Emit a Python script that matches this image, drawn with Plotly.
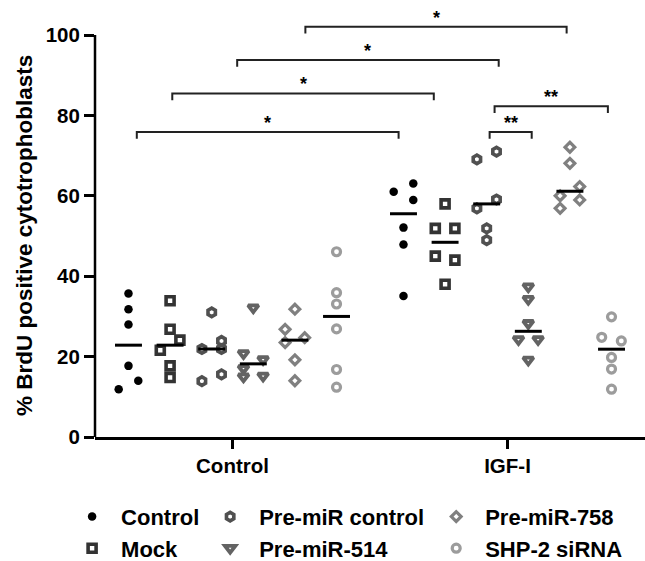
import numpy as np
import plotly.graph_objects as go

# ---------------- data ----------------
CATEGORIES = ["Control", "IGF-I"]
SERIES = ["Control", "Mock", "Pre-miR control", "Pre-miR-514", "Pre-miR-758", "SHP-2 siRNA"]

# each list: [values under "Control" condition, values under "IGF-I" condition]
control_values = [[35.7, 31.8, 28.0, 17.7, 14.0, 11.9], [63.1, 61.0, 59.0, 52.1, 47.9, 35.1]]
mock_values = [[33.9, 26.8, 24.1, 21.6, 17.7, 14.8], [58.0, 51.9, 51.9, 44.0, 45.0, 38.0]]
premir_control_values = [[31.0, 23.9, 21.9, 21.9, 15.6, 13.9], [71.0, 69.1, 59.1, 56.9, 51.9, 49.0]]
premir_514_values = [[32.2, 19.3, 20.8, 17.1, 15.2, 15.0], [37.4, 34.3, 28.3, 24.3, 24.3, 19.2]]
premir_758_values = [[31.8, 24.7, 26.8, 23.5, 19.2, 14.0], [72.1, 68.1, 62.3, 60.0, 59.0, 56.9]]
shp2_values = [[46.1, 35.9, 33.1, 26.9, 16.8, 12.4], [29.9, 23.9, 24.8, 19.8, 16.9, 11.9]]

Y_TICKS = [0, 20, 40, 60, 80, 100]
Y_TITLE = "% BrdU positive cytotrophoblasts"

# significance comparisons: (x start, x end, height, label)
comparison_x0 = [-0.348, -0.219, 0.017, 0.265, 0.935, 0.953]
comparison_x1 = [0.604, 0.732, 0.968, 1.215, 1.088, 1.365]
comparison_y = [75.9, 85.5, 93.8, 102.1, 75.9, 82.3]
comparison_label = ["*", "*", "*", "*", "**", "**"]

ALL_VALUES = [control_values, mock_values, premir_control_values,
              premir_514_values, premir_758_values, shp2_values]

# ---------------- style ----------------
FONT = "Liberation Sans"
W, H = 645, 561
M_L, M_R, M_T, M_B = 95, 0, 11, 124
X_RANGE = [-0.5, 1.5]
Y_RANGE = [0, 106]
PX_PER_Y = (H - M_T - M_B) / (Y_RANGE[1] - Y_RANGE[0])
PX_PER_X = (W - M_L - M_R) / (X_RANGE[1] - X_RANGE[0])

GROUP_STEP = 0.1513
SPREAD = 9.8 / PX_PER_X          # horizontal offset of overlapping points
OVERLAP_PX = 10.5                # vertical distance under which points overlap
MEDIAN_HALF = 0.049

styles = [
    dict(symbol="circle", color="#000000", size=8.5, lw=0),
    dict(symbol="square-open", color="#333333", size=8, lw=3.6),
    dict(symbol="hexagon-open", color="#505050", size=8.5, lw=3.6),
    dict(symbol="triangle-down-open", color="#636363", size=9, lw=3.8),
    dict(symbol="diamond-open", color="#808080", size=7.5, lw=3.2),
    dict(symbol="circle-open", color="#9c9c9c", size=8, lw=3.2),
]
legend_ids = ["legend", "legend", "legend2", "legend2", "legend3", "legend3"]


def swarm_offsets(vals):
    """Spread points that would overlap vertically, alternating right/left."""
    n = len(vals)
    order = sorted(range(n), key=lambda i: -vals[i])
    chains, cur = [], [order[0]]
    for a, b in zip(order, order[1:]):
        if (vals[a] - vals[b]) * PX_PER_Y < OVERLAP_PX:
            cur.append(b)
        else:
            chains.append(cur)
            cur = [b]
    chains.append(cur)
    off = [0.0] * n
    for ch in chains:
        if len(ch) < 2:
            continue
        k = ch.index(min(ch))
        for j, idx in enumerate(ch):
            off[idx] = SPREAD if (j - k) % 2 == 0 else -SPREAD
    return off


fig = go.Figure()

med_x, med_y = [], []
for s, (name, series_vals) in enumerate(zip(SERIES, ALL_VALUES)):
    xs, ys = [], []
    for c, vals in enumerate(series_vals):
        center = c + (s - 2.5) * GROUP_STEP
        offs = swarm_offsets(vals)
        xs += [center + o for o in offs]
        ys += list(vals)
        m = float(np.median(vals))
        med_x += [center - MEDIAN_HALF, center + MEDIAN_HALF, None]
        med_y += [m, m, None]
    st = styles[s]
    fig.add_trace(go.Scatter(
        x=xs, y=ys, mode="markers", name=name,
        legend=legend_ids[s],
        marker=dict(symbol=st["symbol"], color=st["color"], size=st["size"],
                    line=dict(width=st["lw"], color=st["color"])),
        cliponaxis=False,
    ))

fig.add_trace(go.Scatter(x=med_x, y=med_y, mode="lines", showlegend=False,
                         line=dict(color="black", width=3), hoverinfo="skip"))

shapes = [dict(type="line", xref="paper", yref="y", x0=0, x1=0, y0=0, y1=100,
               line=dict(color="black", width=2.5))]
annotations = [dict(x=-0.129, y=50, xref="paper", yref="y", text=Y_TITLE,
                    textangle=-90, showarrow=False, xanchor="center", yanchor="middle",
                    font=dict(family=FONT, size=22.5, color="black", weight="bold"))]
TICK_DOWN = 1.7
for x0, x1, y, lab in zip(comparison_x0, comparison_x1, comparison_y, comparison_label):
    shapes.append(dict(type="path", xref="x", yref="y",
                       path=f"M {x0},{y - TICK_DOWN} L {x0},{y} L {x1},{y} L {x1},{y - TICK_DOWN}",
                       line=dict(color="#222222", width=2)))
    annotations.append(dict(x=(x0 + x1) / 2, y=y, xref="x", yref="y", text=lab,
                            showarrow=False, yanchor="bottom", yshift=-3,
                            font=dict(family=FONT, size=18, color="black", weight="bold")))

legend_common = dict(orientation="v", xanchor="left", yanchor="top",
                     font=dict(family=FONT, size=22, color="black", weight="bold"),
                     bgcolor="rgba(0,0,0,0)", itemwidth=48, tracegroupgap=0)

fig.update_layout(
    width=W, height=H,
    margin=dict(l=M_L, r=M_R, t=M_T, b=M_B, autoexpand=False),
    plot_bgcolor="white", paper_bgcolor="white",
    font=dict(family=FONT, color="black"),
    xaxis=dict(range=X_RANGE, tickvals=[0, 1], ticktext=CATEGORIES,
               showline=True, linecolor="black", linewidth=2.5,
               ticks="outside", ticklen=9, tickwidth=2.5, tickcolor="black",
               showgrid=False, zeroline=False,
               tickfont=dict(family=FONT, size=20.5, color="black", weight="bold")),
    yaxis=dict(range=Y_RANGE, tickvals=Y_TICKS,
               showline=False, ticks="outside", ticklen=10, tickwidth=2.5,
               tickcolor="black", showgrid=False, zeroline=False,
               tickfont=dict(family=FONT, size=20.5, color="black", weight="bold")),
    shapes=shapes,
    annotations=annotations,
    legend=dict(x=-0.058, y=-0.138, **legend_common),
    legend2=dict(x=0.193, y=-0.138, **legend_common),
    legend3=dict(x=0.604, y=-0.138, **legend_common),
)

fig.write_html("out.html", config={"displayModeBar": False},
               post_script="document.body.style.margin='0px';")
